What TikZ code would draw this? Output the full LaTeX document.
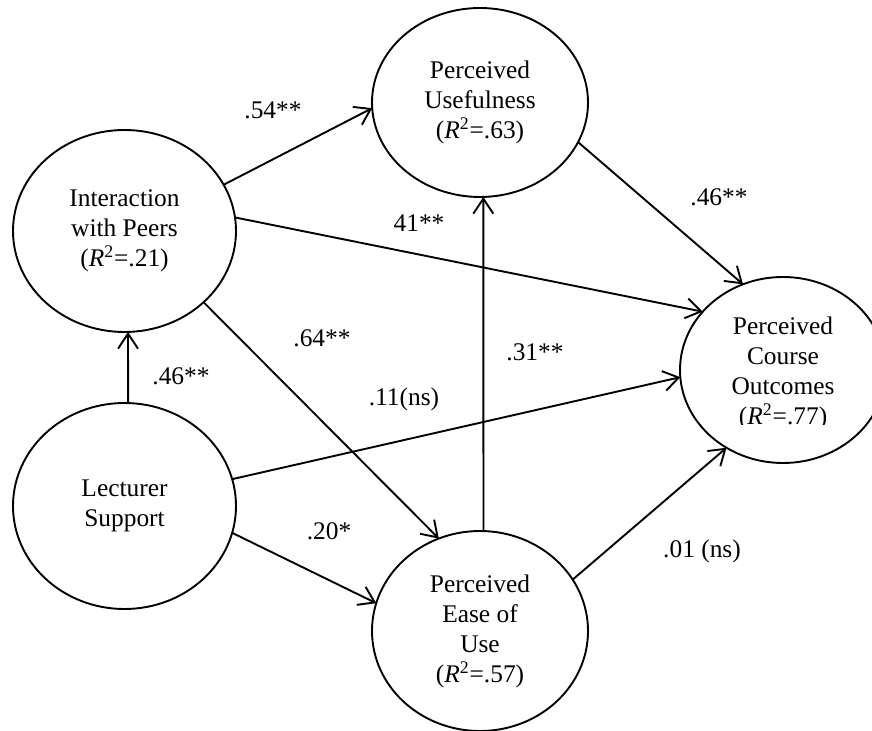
\documentclass[tikz,border=0pt]{standalone}
\usepackage{fontspec}
\setmainfont{Liberation Serif}
\usetikzlibrary{shapes.geometric,arrows.meta}
\begin{document}
\begin{tikzpicture}[x=0.5pt,y=-0.5pt,
  lat/.style={ellipse, draw, line width=0.95pt, inner sep=0pt, outer sep=0pt,
    font=\fontsize{12.7}{15}\selectfont, align=center},
  pathline/.style={draw, line width=0.95pt, -{Straight Barb[length=7.5pt,width=10pt]}},
  coef/.style={font=\fontsize{12.7}{15}\selectfont, inner sep=0pt}]
\useasboundingbox (0,0) rectangle (872,731);
\clip (0,0) rectangle (872,731);
\node[lat, minimum width=111.5pt, minimum height=101pt] (ip) at (124.5,231)
  {Interaction\\with Peers\\(\textit{R}\textsuperscript{2}=.21)};
\node[lat, minimum width=108pt, minimum height=94.5pt] (pu) at (480,102.5)
  {Perceived\\Usefulness\\(\textit{R}\textsuperscript{2}=.63)};
\node[lat, minimum width=111.5pt, minimum height=103pt] (ls) at (124.5,506)
  {Lecturer\\Support};
\node[lat, minimum width=108pt, minimum height=100pt] (peu) at (480,631)
  {Perceived\\Ease of\\Use\\(\textit{R}\textsuperscript{2}=.57)};
\node[lat, minimum width=103pt, minimum height=93pt] (pco) at (783,370) {};
\begin{scope}
  \clip (600,250) rectangle (872,425);
  \node[coef, align=center] (pcotext) at ([yshift=-1.5pt]pco.center)
    {Perceived\\Course\\Outcomes\\(\textit{R}\textsuperscript{2}=.77)};
\end{scope}

\draw[pathline] (ip.25.5) -- (pu.183.3);
\draw[pathline] (ip.7.2) -- (pco.144);
\draw[pathline] (ip.-42.2) -- (peu.114.8);
\draw[pathline] (ls.88) -- (ip.-88);
\draw[pathline] (ls.14) -- (pco.184.4);
\draw[pathline] (ls.-14) -- (peu.165.3);
\draw[pathline] (peu.88) -- (pu.-88);
\draw[pathline] (pu.-22) -- (pco.115.2);
\draw[pathline] (peu.29.7) -- (pco.234.9);

\node[coef] (c1) at (273,110) {.54**};
\node[coef] (c2) at (419,223) {41**};
\node[coef] (c3) at (322,338) {.64**};
\node[coef] (c4) at (181,376) {.46**};
\node[coef] (c5) at (404,399) {.11(ns)};
\node[coef] (c6) at (329,531) {.20*};
\node[coef] (c7) at (535,352) {.31**};
\node[coef] (c8) at (719,197) {.46**};
\node[coef] (c9) at (702,551) {.01 (ns)};
\end{tikzpicture}
\end{document}
